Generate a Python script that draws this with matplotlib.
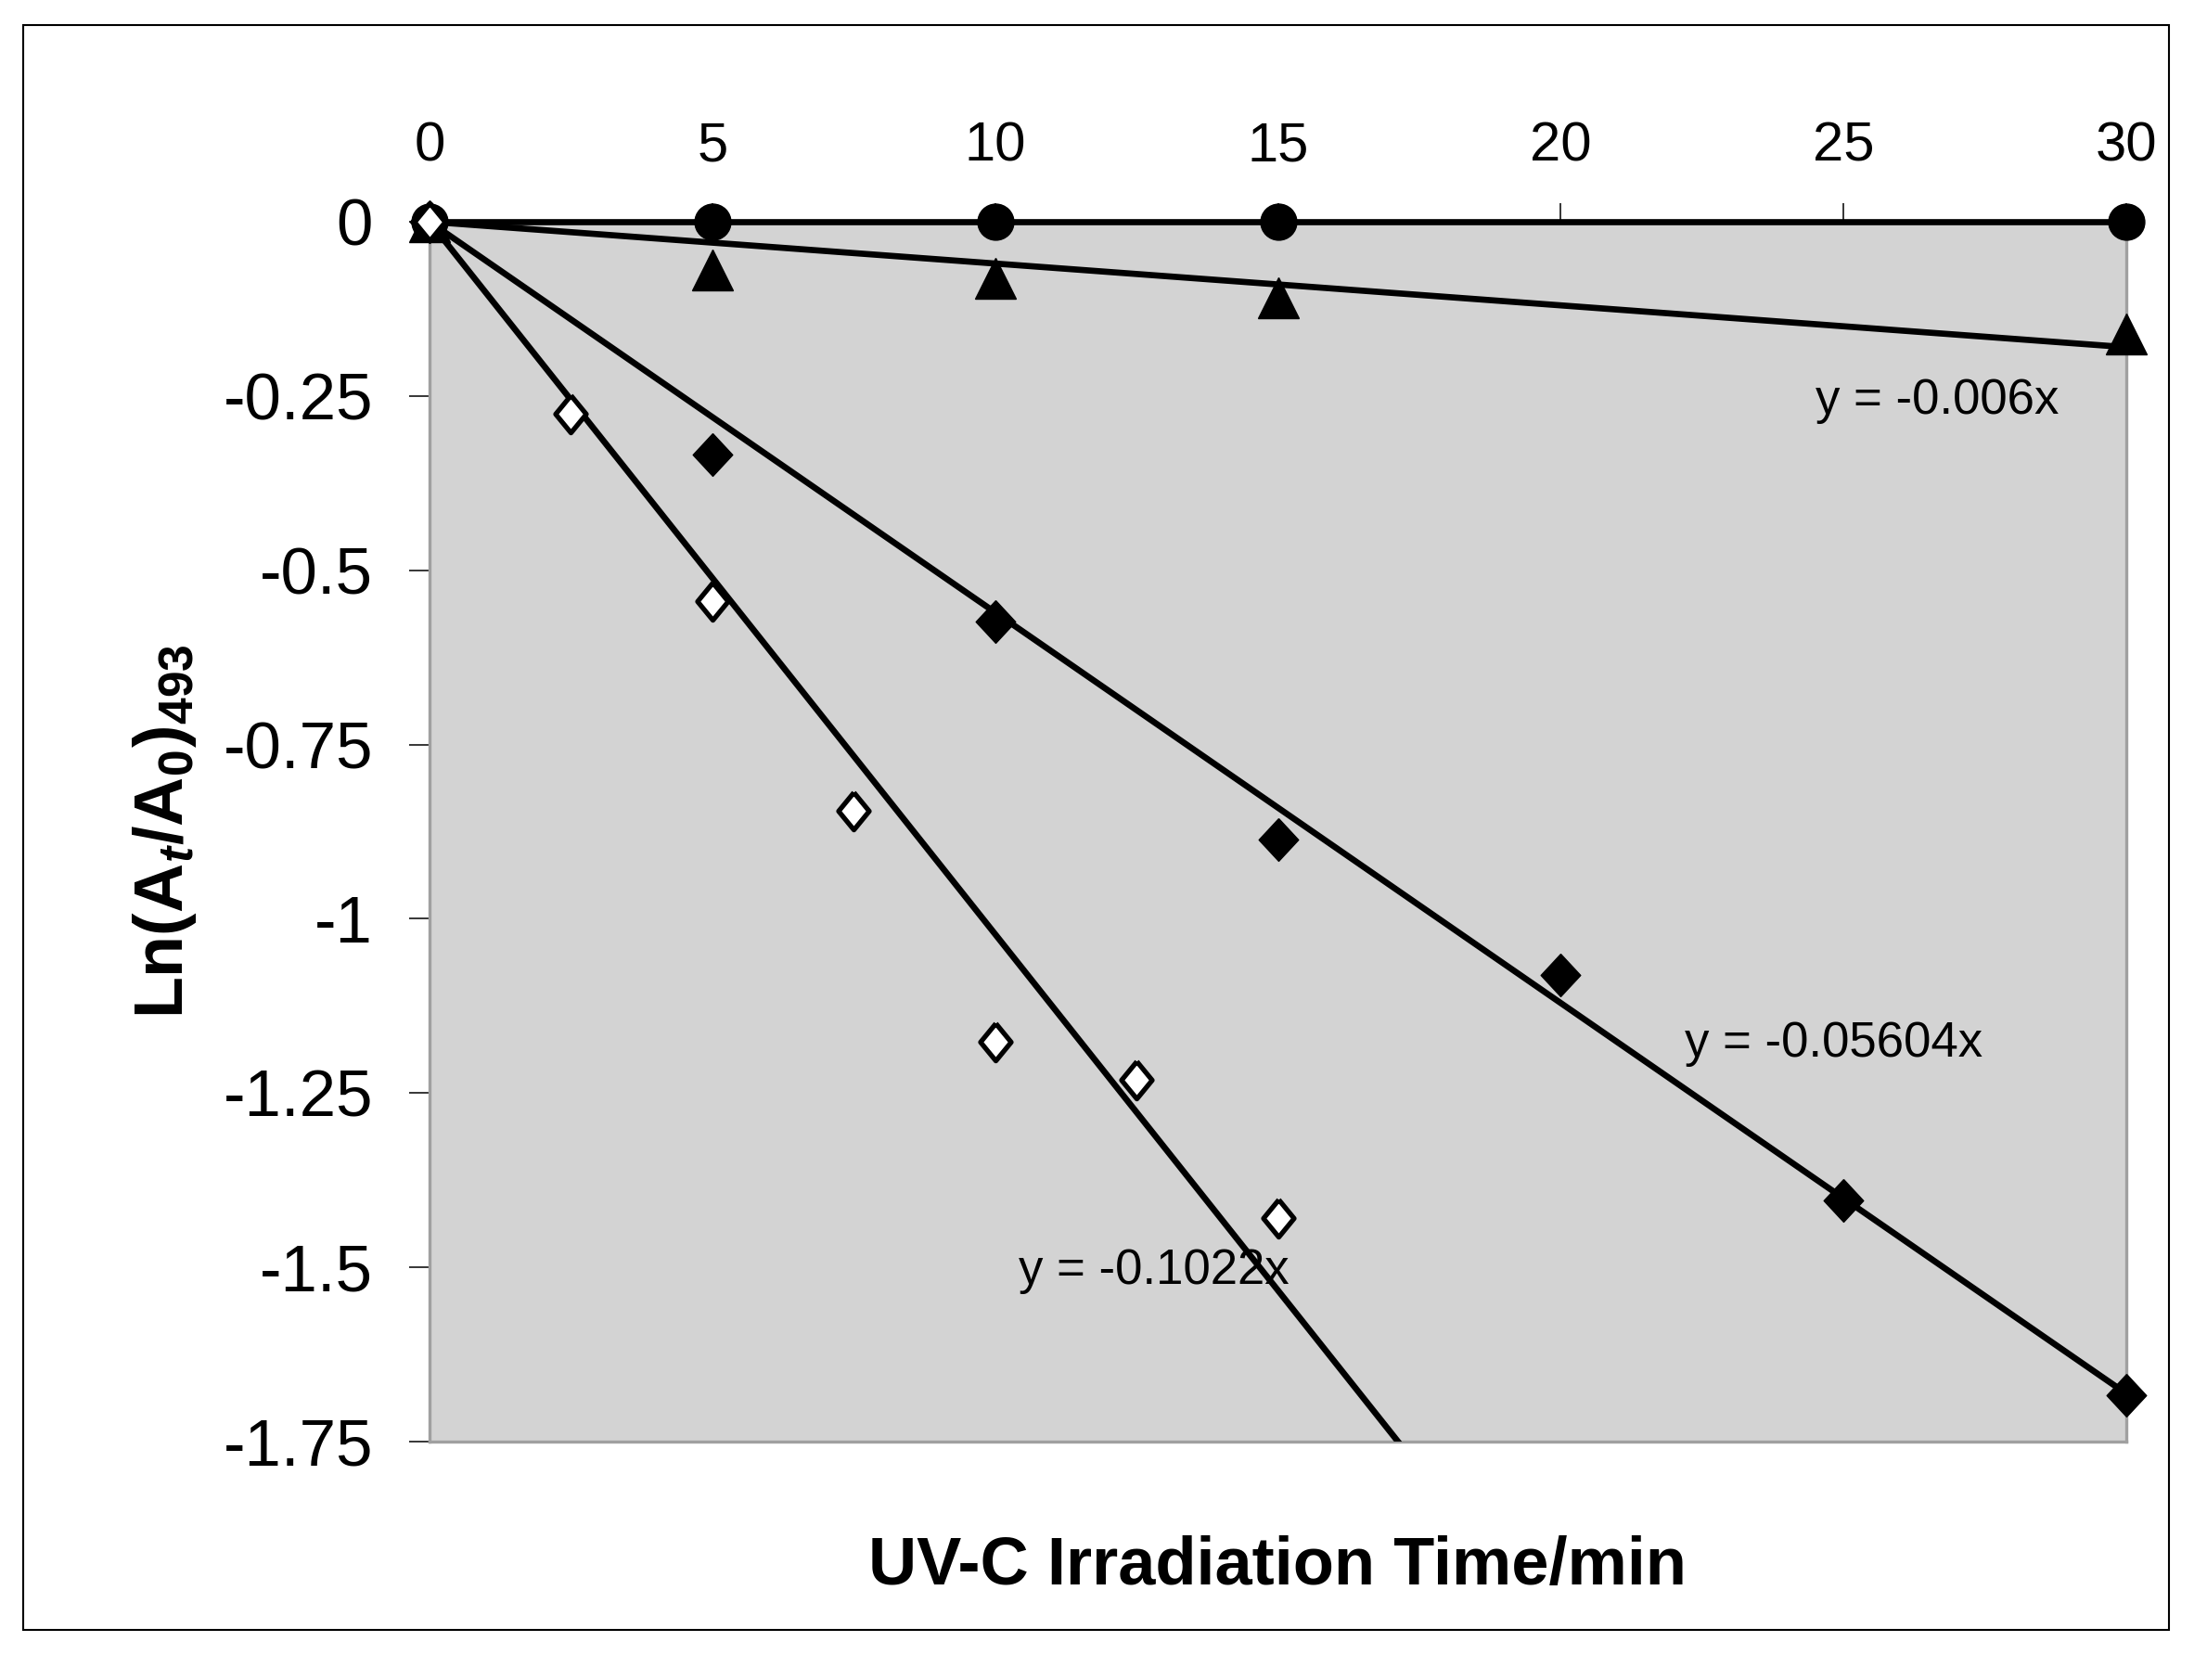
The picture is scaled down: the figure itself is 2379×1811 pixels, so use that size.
import matplotlib
matplotlib.use('Agg')
import matplotlib.pyplot as plt
from matplotlib.patches import Rectangle

plt.rcParams['font.family'] = ['Liberation Sans', 'DejaVu Sans']
plt.rcParams['axes.unicode_minus'] = False
plt.rcParams['mathtext.fontset'] = 'custom'
plt.rcParams['mathtext.rm'] = 'Liberation Sans:bold'
plt.rcParams['mathtext.it'] = 'Liberation Sans:bold:italic'
plt.rcParams['mathtext.bf'] = 'Liberation Sans:bold'

# data
time_circle = [0, 5, 10, 15, 30]
ln_circle = [0, 0, 0, 0, 0]

time_tri = [0, 5, 10, 15, 30]
ln_tri = [0, -0.069, -0.081, -0.109, -0.161]

time_dia = [0, 5, 10, 15, 20, 25, 30]
ln_dia = [0, -0.334, -0.574, -0.886, -1.081, -1.404, -1.683]

time_open = [0, 2.5, 5, 7.5, 10, 12.5, 15]
ln_open = [0, -0.275, -0.544, -0.845, -1.176, -1.231, -1.429]

# trendlines y = a*x, as labelled in the chart
fit_slopes = [0, -0.006, -0.05604, -0.1022]
fit_labels = ['', 'y = -0.006x', 'y = -0.05604x', 'y = -0.1022x']
label_pos = [None, (24.5, -0.2755), (22.2, -1.198), (10.42, -1.524)]
fit_x = [0, 30]

x_ticks = [0, 5, 10, 15, 20, 25, 30]
x_ticklabels = ['0', '5', '10', '15', '20', '25', '30']
y_ticks = [0, -0.25, -0.5, -0.75, -1, -1.25, -1.5, -1.75]
y_ticklabels = ['0', '-0.25', '-0.5', '-0.75', '-1', '-1.25', '-1.5', '-1.75']

W, H = 2379, 1811
fig = plt.figure(figsize=(W / 100, H / 100), dpi=100)
ax = fig.add_axes([463 / W, 1 - 1554 / H, (2292 - 463) / W, (1554 - 239) / H])
ax.set_facecolor('#D3D3D3')

for a in fit_slopes:
    ys = [a * x for x in fit_x]
    ax.plot(fit_x, ys, color='black', lw=4.8, solid_capstyle='butt',
            clip_on=(a < -0.1), zorder=3)

dia_marker = [(0, 1), (0.93, 0), (0, -1), (-0.93, 0), (0, 1)]
open_marker = [(0, 1), (0.82, 0), (0, -1), (-0.82, 0), (0, 1)]

ax.plot(time_circle, ln_circle, 'o', ms=28, color='black', clip_on=False, zorder=5)
ax.plot(time_tri, ln_tri, '^', ms=32, color='black', clip_on=False, zorder=5)
ax.plot(time_dia, ln_dia, ls='none', marker=dia_marker, ms=33, color='black',
        clip_on=False, zorder=5)
ax.plot(time_open, ln_open, ls='none', marker=open_marker, ms=29, mfc='white',
        mec='black', mew=3.8, clip_on=False, zorder=5)

for lab, pos in zip(fit_labels, label_pos):
    if pos is None:
        continue
    ax.text(pos[0], pos[1], lab, fontsize=38, ha='left', va='baseline', zorder=6)

ax.set_xlim(0, 30)
ax.set_ylim(-1.75, 0)
ax.xaxis.tick_top()
ax.set_xticks(x_ticks)
ax.set_xticklabels(x_ticklabels)
ax.set_yticks(y_ticks)
ax.set_yticklabels(y_ticklabels)
ax.tick_params(axis='x', direction='out', length=14.4, width=1.1, pad=24,
               labelsize=43, colors='black')
ax.tick_params(axis='y', direction='out', length=16, width=1.1, pad=28,
               labelsize=51, colors='black')
for s in ax.spines.values():
    s.set_color('#A0A0A0')
    s.set_linewidth(2.4)

fig.text(1377 / W, 1 - 1708 / H, 'UV-C Irradiation Time/min', fontsize=52,
         fontweight='bold', ha='center', va='baseline')
fig.text(178 / W, 1 - 896 / H,
         r'$\mathrm{Ln(A}_{\mathit{t}}\mathrm{/A}_{\mathrm{0}}\mathrm{)}_{\mathrm{493}}$',
         fontsize=53, rotation=90, ha='center', va='center')

fig.add_artist(Rectangle((25 / W, 1 - 1757 / H), (2338 - 25) / W, (1757 - 27) / H,
                         transform=fig.transFigure, fill=False, lw=1.5,
                         ec='black'))

fig.savefig('out.png', dpi=100, facecolor='white')
